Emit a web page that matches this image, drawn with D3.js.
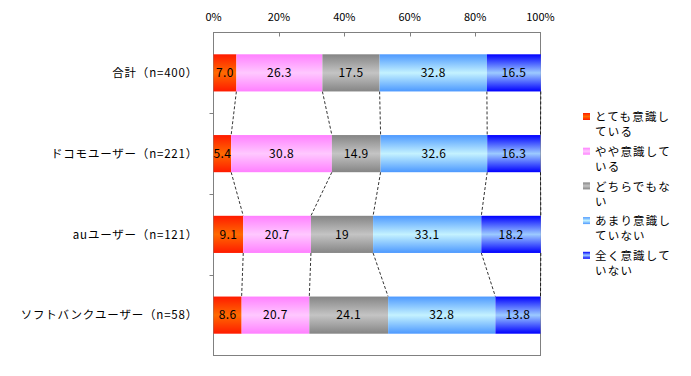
<!DOCTYPE html>
<html>
<head>
<meta charset="utf-8">
<script src="https://cdn.jsdelivr.net/npm/d3@7"></script>
<style>
  body { margin: 0; background: #fff; }
  text { font-family: "Noto Sans CJK JP", "Noto Sans", sans-serif; fill: #000; }
</style>
</head>
<body>
<script>
var categories = ['合計（n=400）', 'ドコモユーザー（n=221）', 'auユーザー（n=121）', 'ソフトバンクユーザー（n=58）'];
var seriesNames = ['とても意識している', 'やや意識している', 'どちらでもない', 'あまり意識していない', '全く意識していない'];
var legendLines = [['とても意識し', 'ている'], ['やや意識して', 'いる'], ['どちらでもな', 'い'], ['あまり意識し', 'ていない'], ['全く意識して', 'いない']];
var values = [
  [7.0, 26.3, 17.5, 32.8, 16.5],
  [5.4, 30.8, 14.9, 32.6, 16.3],
  [9.1, 20.7, 19, 33.1, 18.2],
  [8.6, 20.7, 24.1, 32.8, 13.8]
];
var labels = [
  ['7.0', '26.3', '17.5', '32.8', '16.5'],
  ['5.4', '30.8', '14.9', '32.6', '16.3'],
  ['9.1', '20.7', '19', '33.1', '18.2'],
  ['8.6', '20.7', '24.1', '32.8', '13.8']
];
var ticks = [0, 20, 40, 60, 80, 100];

// colour of the bar edges and of the bar middle
var edgeColors = ['#ff1a00', '#ff80ff', '#858585', '#4d99ff', '#0000ff'];
var midColors = ['#ff6a00', '#ffc8ff', '#c4c4c4', '#c4f2ff', '#9ccaff'];

var width = 691, height = 376;
var plot = { left: 213.5, right: 540.5, top: 32.5, bottom: 355.5 };

var svg = d3.select('body').append('svg')
    .attr('width', width)
    .attr('height', height);

var defs = svg.append('defs');
seriesNames.forEach(function(s, i) {
  var gr = defs.append('linearGradient')
      .attr('id', 'grad' + i)
      .attr('x1', 0).attr('y1', 0).attr('x2', 0).attr('y2', 1);
  gr.append('stop').attr('offset', '0%').attr('stop-color', edgeColors[i]);
  gr.append('stop').attr('offset', '50%').attr('stop-color', midColors[i]);
  gr.append('stop').attr('offset', '100%').attr('stop-color', edgeColors[i]);
});

var xScale = d3.scaleLinear().domain([0, 100]).range([plot.left, plot.right]);
var yScale = d3.scaleBand().domain(categories)
    .range([plot.top, plot.bottom])
    .paddingInner(0.54).paddingOuter(0.27);

// stack values
var rows = values.map(function(v, r) {
  var acc = 0;
  return v.map(function(d, i) {
    var seg = { row: r, idx: i, x0: acc, x1: acc + d, label: labels[r][i] };
    acc += d;
    return seg;
  });
});

// frame
svg.append('rect')
    .attr('x', plot.left).attr('y', plot.top)
    .attr('width', plot.right - plot.left).attr('height', plot.bottom - plot.top)
    .attr('fill', 'none').attr('stroke', '#808080');

// top ticks (inside)
svg.selectAll('.xtick').data(ticks.slice(1, -1)).enter().append('line')
    .attr('x1', function(d) { return Math.round(xScale(d)) + 0.5; })
    .attr('x2', function(d) { return Math.round(xScale(d)) + 0.5; })
    .attr('y1', plot.top).attr('y2', plot.top + 4)
    .attr('stroke', '#808080');

svg.selectAll('.xlabel').data(ticks).enter().append('text')
    .attr('x', function(d) { return xScale(d); })
    .attr('y', 21)
    .attr('text-anchor', 'middle')
    .attr('font-size', 11)
    .text(function(d) { return d + '%'; });

// category separator ticks on the left, between bands
var step = yScale.step();
function sepY(d) {
  return Math.round(yScale(d) - step * yScale.paddingInner() / 2) + 0.5;
}
svg.selectAll('.ytick').data(categories.slice(1)).enter().append('line')
    .attr('x1', plot.left - 4).attr('x2', plot.left)
    .attr('y1', sepY)
    .attr('y2', sepY)
    .attr('stroke', '#808080');

// dashed connector lines
var conn = [];
for (var r = 0; r < rows.length - 1; r++) {
  rows[r].forEach(function(seg, i) {
    conn.push({ a: seg.x1, b: rows[r + 1][i].x1, r: r });
  });
}
svg.selectAll('.conn').data(conn).enter().append('line')
    .attr('x1', function(d) { return xScale(d.a); })
    .attr('x2', function(d) { return xScale(d.b); })
    .attr('y1', function(d) { return yScale(categories[d.r]) + yScale.bandwidth(); })
    .attr('y2', function(d) { return yScale(categories[d.r + 1]); })
    .attr('stroke', '#000')
    .attr('stroke-width', 0.8)
    .attr('stroke-dasharray', '3,2');

// bars
var g = svg.selectAll('.row').data(rows).enter().append('g');
g.selectAll('rect').data(function(d) { return d; }).enter().append('rect')
    .attr('x', function(d) { return xScale(d.x0); })
    .attr('y', function(d) { return yScale(categories[d.row]); })
    .attr('width', function(d) { return xScale(d.x1) - xScale(d.x0); })
    .attr('height', yScale.bandwidth())
    .attr('fill', function(d) { return 'url(#grad' + d.idx + ')'; });

g.selectAll('text').data(function(d) { return d; }).enter().append('text')
    .attr('x', function(d) { return (xScale(d.x0) + xScale(d.x1)) / 2; })
    .attr('y', function(d) { return yScale(categories[d.row]) + yScale.bandwidth() / 2; })
    .attr('dy', '0.36em')
    .attr('text-anchor', 'middle')
    .attr('font-size', 12)
    .attr('letter-spacing', 0.4)
    .text(function(d) { return d.label; });

// category labels
svg.selectAll('.cat').data(categories).enter().append('text')
    .attr('x', 198)
    .attr('y', function(d) { return yScale(d) + yScale.bandwidth() / 2; })
    .attr('dy', '0.36em')
    .attr('text-anchor', 'end')
    .attr('font-size', 11.5)
    .attr('letter-spacing', 0.8)
    .text(function(d) { return d; });

// legend
var leg = svg.selectAll('.leg').data(legendLines).enter().append('g')
    .attr('transform', function(d, i) { return 'translate(583,' + (117 + i * 34.7) + ')'; });
leg.append('rect')
    .attr('x', 0).attr('y', -4)
    .attr('width', 7).attr('height', 7)
    .attr('fill', function(d, i) { return 'url(#grad' + i + ')'; });
leg.each(function(d) {
  var t = d3.select(this);
  d.forEach(function(line, k) {
    t.append('text')
        .attr('x', 12)
        .attr('y', k * 15)
        .attr('dy', '0.36em')
        .attr('font-size', 11.5)
        .attr('letter-spacing', 1.2)
        .text(line);
  });
});
</script>
</body>
</html>
